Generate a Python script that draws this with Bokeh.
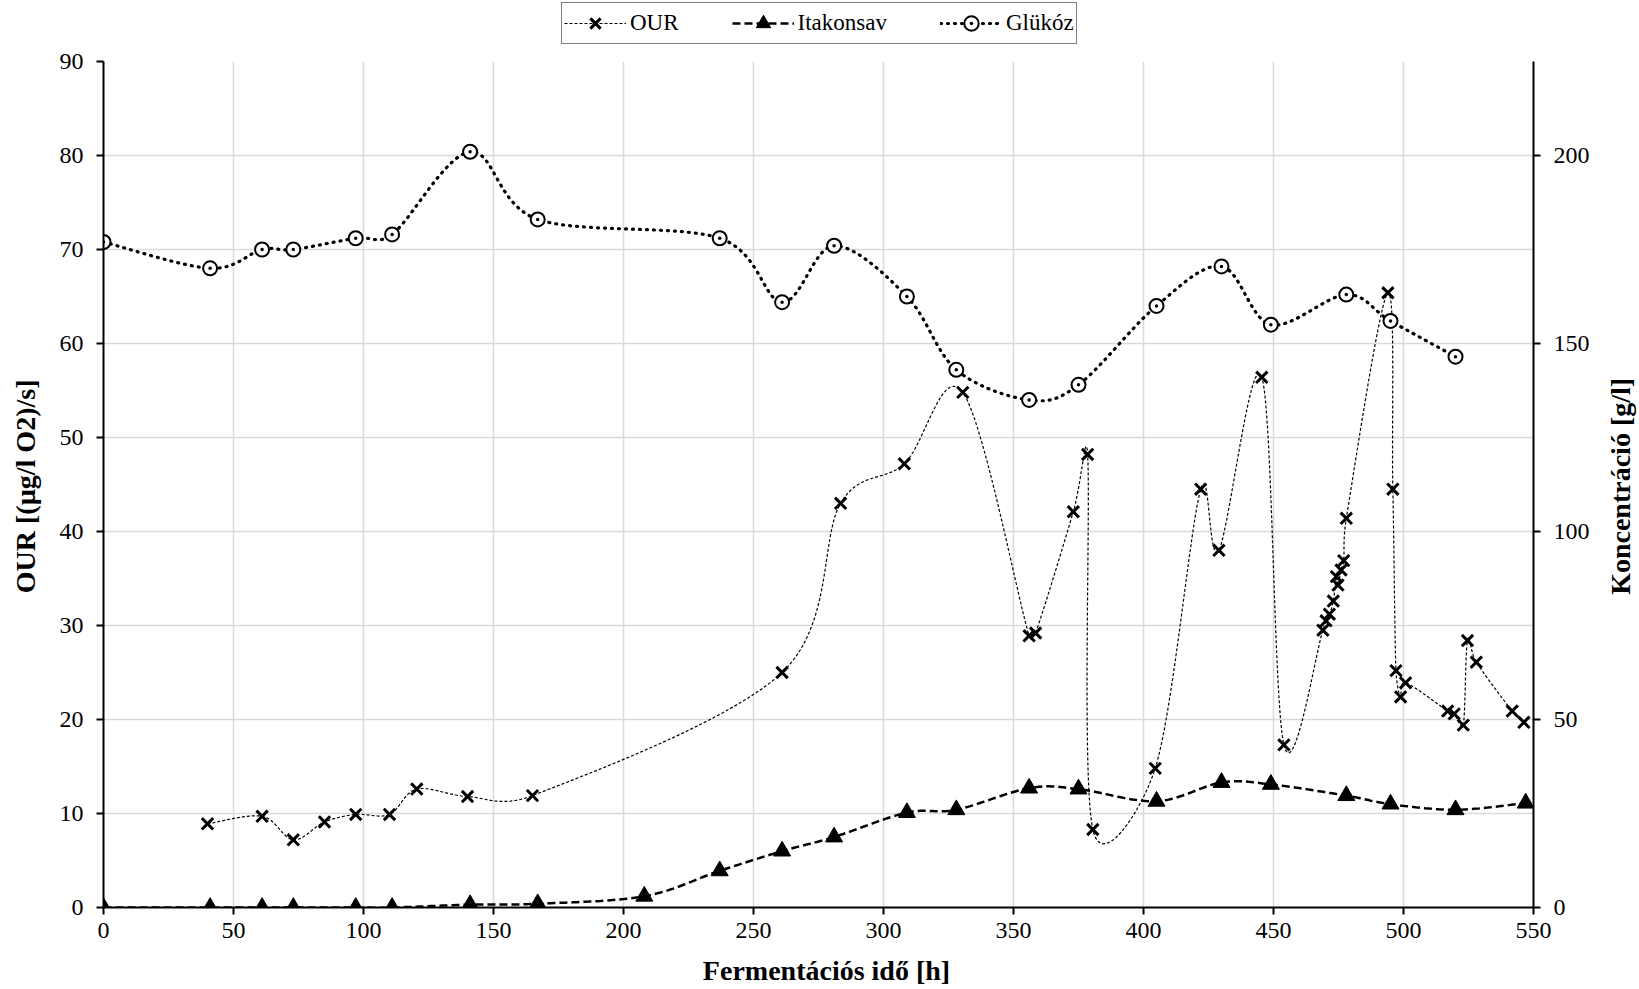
import math
import numpy as np
from bokeh.plotting import figure
from bokeh.layouts import row, column
from bokeh.models import (Range1d, LinearAxis, FixedTicker, Legend, LegendItem)
from bokeh.core.properties import value
from bokeh.embed import file_html
from bokeh.resources import INLINE

# ---------------- data ----------------
our_t = [40, 61, 73, 85, 97, 110, 120.5, 140, 165, 261, 283.5, 308, 330.5, 356, 358.5,
         373, 378.5, 380.5, 404.5, 422, 429, 445.5, 454, 469, 470.2, 471.5, 473, 474.2,
         474.8, 476, 477, 478, 494, 495.9, 497.1, 498.9, 500.8, 517, 519.5, 523, 524.6,
         528, 541.8, 546.3]
our_v = [8.9, 9.7, 7.2, 9.1, 9.9, 9.9, 12.6, 11.8, 11.9, 25.0, 43.0, 47.2, 54.8, 28.9, 29.2,
         42.1, 48.2, 8.3, 14.8, 44.5, 38.0, 56.4, 17.3, 29.5, 30.5, 31.2, 32.6, 35.2,
         34.3, 35.9, 36.9, 41.4, 65.4, 44.5, 25.2, 22.4, 23.9, 20.9, 20.6, 19.4, 28.4,
         26.1, 20.9, 19.7]

ita_t = [0, 41, 61, 73, 97, 111, 141, 167, 208, 237, 261, 281, 309, 328, 356, 375, 405,
         430, 449, 478, 495, 520, 547]
ita_v = [0, 0, 0, 0, 0, 0, 0.75, 1.0, 3.0, 9.75, 15.0, 18.75, 25.25, 26.0, 31.75, 31.5,
         28.25, 33.25, 32.75, 29.75, 27.5, 26.0, 27.75]

glu_t = [0, 41, 61, 73, 97, 111, 141, 167, 237, 261, 281, 309, 328, 356, 375, 405, 430,
         449, 478, 495, 520]
glu_v = [177, 170, 175, 175, 178, 179, 201, 183, 178, 161, 176, 162.5, 143, 135, 139, 160,
         170.5, 155, 163, 156, 146.5]

x_ticks = list(range(0, 551, 50))
left_ticks = list(range(0, 91, 10))
right_ticks = list(range(0, 201, 50))

series_names = ["OUR", "Itakonsav", "Glükóz"]
x_title = "Fermentációs idő [h]"
left_title = "OUR [(µg/l O2)/s]"
right_title = "Koncentráció [g/l]"

FONT = "Liberation Serif"

# ---------------- layout geometry (pixels) ----------------
W_TOTAL = 1639
TOP_H = 45            # legend strip
BOT_H = 38            # x-title strip
H = 989 - TOP_H - BOT_H
W_LEFT = 45           # left title strip
W_SIDE = 39           # right title strip
W_MAIN = W_TOTAL - W_LEFT - W_SIDE
ML, MR, MT, MB = 58, 67, 16, 44
FW = W_MAIN - ML - MR
FH = H - MT - MB
TITLE_DY = 16         # titles sit a little below the frame centre
TITLE_DX = 8

# styles
OUR_LINE = dict(line_color="black", line_width=1.2, line_dash="3 2")
OUR_MARK = dict(marker="x", size=16, line_color="black", line_width=3)
ITA_LINE = dict(line_color="black", line_width=2.5, line_dash="8 4")
ITA_MARK = dict(marker="triangle", size=17, fill_color="black", line_color="black")
GLU_LINE = dict(line_color="black", line_width=3.2, line_dash="1 6", line_cap="round")
GLU_MARK = dict(marker="circle_dot", size=14, fill_color="white", line_color="black",
                line_width=2)
TITLE_STYLE = dict(text_font=value(FONT), text_font_size="28px", text_font_style="bold",
                   text_color="black", text_align="center", text_baseline="middle")


def smooth(xs, ys, y_max, n=30):
    """Excel-like smoothed line (Bezier through the points), computed in pixel space."""
    sx = FW / 550.0
    sy = FH / y_max
    P = np.column_stack([np.asarray(xs, float) * sx, np.asarray(ys, float) * sy])
    m = len(P)
    out = []
    t = np.linspace(0, 1, n)[:, None]
    for i in range(m - 1):
        p0 = P[i - 1] if i > 0 else P[i]
        p1 = P[i]
        p2 = P[i + 1]
        p3 = P[i + 2] if i + 2 < m else P[i + 1]
        d12 = np.hypot(*(p2 - p1))
        a1 = (p2 - p0) / 6.0
        a2 = (p3 - p1) / 6.0
        for a in (a1, a2):
            la = np.hypot(*a)
            if la > d12 / 2 and la > 0:
                a *= (d12 / 2) / la
        c1 = p1 + a1
        c2 = p2 - a2
        seg = (1 - t) ** 3 * p1 + 3 * (1 - t) ** 2 * t * c1 + 3 * (1 - t) * t ** 2 * c2 + t ** 3 * p2
        if i > 0:
            seg = seg[1:]
        out.append(seg)
    S = np.vstack(out)
    return list(S[:, 0] / sx), list(S[:, 1] / sy)


def strip(width, height, **kw):
    f = figure(width=width, height=height, x_range=Range1d(0, width), y_range=Range1d(0, height),
               output_backend="svg", toolbar_location=None,
               x_axis_location=None, y_axis_location=None,
               min_border_left=0, min_border_right=0, min_border_top=0, min_border_bottom=0, **kw)
    f.outline_line_color = None
    f.xgrid.visible = False
    f.ygrid.visible = False
    f.background_fill_color = "white"
    f.border_fill_color = "white"
    return f


# ---------------- main plot ----------------
p = figure(width=W_MAIN, height=H, x_range=Range1d(0, 550), y_range=Range1d(0, 90),
           output_backend="svg", toolbar_location=None,
           min_border_left=ML, min_border_right=MR, min_border_top=MT, min_border_bottom=MB)
p.extra_y_ranges = {"conc": Range1d(0, 225)}
p.outline_line_color = None
p.background_fill_color = "white"
p.border_fill_color = "white"

for g in (p.xgrid, p.ygrid):
    g.grid_line_color = "#d9d9d9"
    g.grid_line_width = 1.5

laxis = p.left[0]
baxis = p.below[0]
laxis.ticker = FixedTicker(ticks=left_ticks)
baxis.ticker = FixedTicker(ticks=x_ticks)
p.xgrid.ticker = FixedTicker(ticks=x_ticks)
p.ygrid.ticker = FixedTicker(ticks=left_ticks)

raxis = LinearAxis(y_range_name="conc", ticker=FixedTicker(ticks=right_ticks))
p.add_layout(raxis, "right")

for ax in (baxis, laxis, raxis):
    ax.axis_line_color = "black"
    ax.axis_line_width = 2
    ax.major_tick_line_color = "black"
    ax.major_tick_line_width = 2
    ax.major_tick_out = 7
    ax.major_tick_in = 0
    ax.minor_tick_line_color = None
    ax.major_label_text_font = FONT
    ax.major_label_text_font_size = "24px"
    ax.major_label_text_color = "black"

laxis.major_label_standoff = 13
raxis.major_label_standoff = 13
baxis.major_label_standoff = 8

ox, oy = smooth(our_t, our_v, 90)
p.line(ox, oy, **OUR_LINE)
p.scatter(our_t, our_v, **OUR_MARK)

ix, iy = smooth(ita_t, ita_v, 225)
p.line(ix, iy, y_range_name="conc", **ITA_LINE)
p.scatter(ita_t, ita_v, y_range_name="conc", **ITA_MARK)

gx, gy = smooth(glu_t, glu_v, 225)
p.line(gx, gy, y_range_name="conc", **GLU_LINE)
p.scatter(glu_t, glu_v, y_range_name="conc", **GLU_MARK)

# ---------------- axis title strips ----------------
title_y = MB + FH / 2 - TITLE_DY          # measured from the strip bottom
ls = strip(W_LEFT, H)
ls.text(x=[25], y=[title_y], text=[left_title], angle=math.pi / 2, **TITLE_STYLE)

rs = strip(W_SIDE, H)
rs.text(x=[20], y=[title_y], text=[right_title], angle=math.pi / 2, **TITLE_STYLE)

bs = strip(W_TOTAL, BOT_H)
bs.text(x=[W_LEFT + ML + FW / 2 + TITLE_DX], y=[BOT_H / 2], text=[x_title], **TITLE_STYLE)

# ---------------- legend strip ----------------
lg = strip(W_TOTAL, TOP_H)
# sample glyphs for the legend keys, kept outside the visible strip
r_ol = lg.line([-20, -10], [-20, -10], **OUR_LINE)
r_om = lg.scatter([-20], [-20], **OUR_MARK)
r_il = lg.line([-20, -10], [-20, -10], **ITA_LINE)
r_im = lg.scatter([-20], [-20], **ITA_MARK)
r_gl = lg.line([-20, -10], [-20, -10], **GLU_LINE)
r_gm = lg.scatter([-20], [-20], **GLU_MARK)

legend = Legend(items=[
    LegendItem(label=series_names[0], renderers=[r_ol, r_om]),
    LegendItem(label=series_names[1], renderers=[r_il, r_im]),
    LegendItem(label=series_names[2], renderers=[r_gl, r_gm]),
], orientation="horizontal", location=(561, 1))
legend.label_text_font = FONT
legend.label_text_font_size = "23px"
legend.label_text_color = "black"
legend.border_line_color = "black"
legend.border_line_width = 1
legend.background_fill_color = "white"
legend.background_fill_alpha = 1
legend.glyph_width = 62
legend.glyph_height = 36
legend.label_standoff = 4
legend.spacing = 53
legend.padding = 2
legend.margin = 0
lg.add_layout(legend, "center")

layout = column(lg, row(ls, p, rs, spacing=0), bs, spacing=0)
open("out.html", "w").write(file_html(layout, INLINE))
